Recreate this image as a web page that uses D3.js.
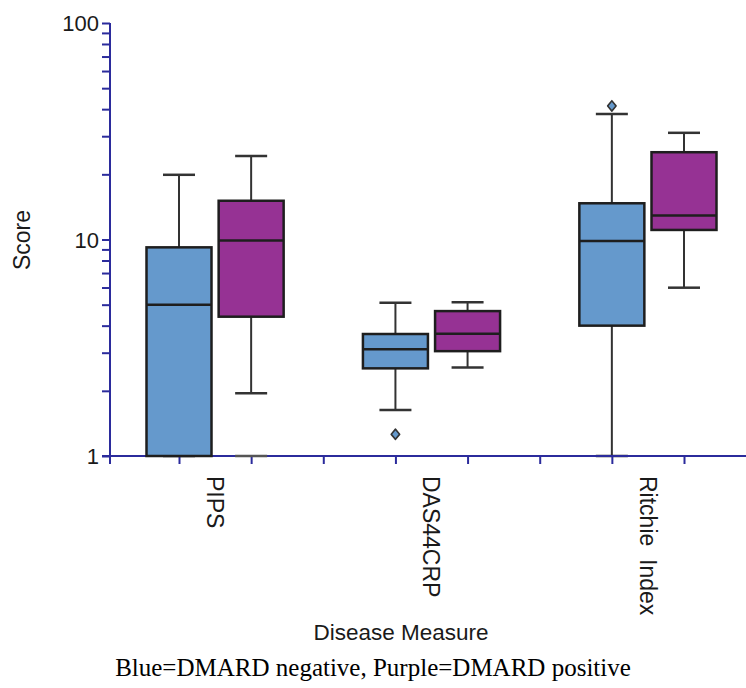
<!DOCTYPE html>
<html>
<head>
<meta charset="utf-8">
<script src="https://cdn.jsdelivr.net/npm/d3@7"></script>
<style>
  html, body { margin: 0; padding: 0; background: #fff; }
  svg { display: block; }
</style>
</head>
<body>
<div id="chart"></div>
<script>
// Disease measures, two DMARD groups per measure
const categories = ["PIPS", "DAS44CRP", "Ritchie  Index"];
const groups = ["DMARD negative", "DMARD positive"];

// Box statistics, in order: PIPS-, PIPS+, DAS44CRP-, DAS44CRP+, Ritchie-, Ritchie+
const whiskerLow  = [1.0, 1.95, 1.63, 2.56, 1.0, 5.99];
const quartile1   = [1.0, 4.4, 2.54, 3.05, 4.0, 11.07];
const medians     = [5.0, 9.9, 3.11, 3.67, 9.84, 12.9];
const quartile3   = [9.2, 15.1, 3.66, 4.67, 14.7, 25.3];
const whiskerHigh = [19.9, 24.3, 5.11, 5.13, 38.0, 31.1];
const outliers    = [[], [], [1.26], [], [41.4], []];
const floorMarks  = [null, 1.0, null, null, null, null];

const yMajorTicks = [1, 10, 100];

const W = 746, H = 688;
const margin = { left: 110, top: 23, bottom: 456, right: 746 };
const colors = ["#6599cc", "#963294"];
const axisColor = "#2b2b9c";
const inkColor = "#1e1e1e";

const svg = d3.select("#chart").append("svg")
  .attr("width", W).attr("height", H)
  .style("font-family", "'Liberation Sans', Arial, sans-serif");

// log value scale
const y = d3.scaleLog().domain([1, 100]).range([margin.bottom, margin.top]);
// slot scale: 3 slots per category (two boxes + spacer)
const x = d3.scaleLinear().domain([0, 7]).range([179, 684]);

const boxes = [];
categories.forEach((c, i) => {
  groups.forEach((g, j) => {
    const k = i * 2 + j;
    boxes.push({
      cat: c, group: j, slot: i * 3 + j,
      lo: whiskerLow[k], q1: quartile1[k], med: medians[k], q3: quartile3[k], hi: whiskerHigh[k],
      out: outliers[k], floor: floorMarks[k]
    });
  });
});

const boxW = 65, capW = 32;

// whiskers
const bx = svg.append("g");
bx.selectAll(".whisker").data(boxes).join("line")
  .attr("x1", d => x(d.slot)).attr("x2", d => x(d.slot))
  .attr("y1", d => y(d.lo)).attr("y2", d => y(d.hi))
  .attr("stroke", "#333").attr("stroke-width", 2);
bx.selectAll(".capHi").data(boxes).join("line")
  .attr("x1", d => x(d.slot) - capW / 2).attr("x2", d => x(d.slot) + capW / 2)
  .attr("y1", d => y(d.hi)).attr("y2", d => y(d.hi))
  .attr("stroke", "#333").attr("stroke-width", 2.5);
bx.selectAll(".capLo").data(boxes).join("line")
  .attr("x1", d => x(d.slot) - capW / 2).attr("x2", d => x(d.slot) + capW / 2)
  .attr("y1", d => y(d.lo)).attr("y2", d => y(d.lo))
  .attr("stroke", "#333").attr("stroke-width", 2.5);

// axes (drawn before boxes so boxes sit on top)
const yAxis = d3.axisLeft(y)
  .tickValues(y.ticks())
  .tickSize(8)
  .tickFormat(d => yMajorTicks.includes(d) ? d3.format("d")(d) : "");
const gy = svg.append("g").attr("transform", `translate(${margin.left},0)`).call(yAxis);
gy.select(".domain").remove();
gy.selectAll(".tick line").attr("stroke", axisColor).attr("stroke-width", 2);
gy.selectAll(".tick text")
  .attr("x", -11).attr("dy", "0.36em")
  .attr("fill", "#1a1a1a").style("font-size", "22px");

const xAxis = d3.axisBottom(x).tickValues(d3.range(8)).tickSize(8).tickSizeOuter(0).tickFormat("");
const gx = svg.append("g").attr("transform", `translate(0,${margin.bottom})`).call(xAxis);
gx.select(".domain").remove();
gx.selectAll(".tick line").attr("stroke", axisColor).attr("stroke-width", 2);

svg.append("line")
  .attr("x1", margin.left).attr("x2", margin.left)
  .attr("y1", margin.top).attr("y2", margin.bottom + 8)
  .attr("stroke", axisColor).attr("stroke-width", 2);
svg.append("line")
  .attr("x1", margin.left - 8).attr("x2", W)
  .attr("y1", margin.bottom).attr("y2", margin.bottom)
  .attr("stroke", axisColor).attr("stroke-width", 2);

// floor marks at value 1
svg.append("g").selectAll("line").data(boxes.filter(d => d.floor != null)).join("line")
  .attr("x1", d => x(d.slot) - capW / 2).attr("x2", d => x(d.slot) + capW / 2)
  .attr("y1", d => y(d.floor)).attr("y2", d => y(d.floor))
  .attr("stroke", "#555").attr("stroke-width", 2.5);

// boxes
const bb = svg.append("g");
bb.selectAll("rect").data(boxes).join("rect")
  .attr("x", d => x(d.slot) - boxW / 2).attr("width", boxW)
  .attr("y", d => y(d.q3)).attr("height", d => y(d.q1) - y(d.q3))
  .attr("fill", d => colors[d.group])
  .attr("stroke", inkColor).attr("stroke-width", 2.5);
bb.selectAll(".median").data(boxes).join("line")
  .attr("x1", d => x(d.slot) - boxW / 2).attr("x2", d => x(d.slot) + boxW / 2)
  .attr("y1", d => y(d.med)).attr("y2", d => y(d.med))
  .attr("stroke", inkColor).attr("stroke-width", 2.5);

// outliers as small rounded diamonds
const pts = boxes.flatMap(d => d.out.map(v => ({ slot: d.slot, v, group: d.group })));
const marker = d3.symbol().type(d3.symbolSquare).size(36);
svg.append("g").selectAll("path").data(pts).join("path")
  .attr("d", marker)
  .attr("transform", d => `translate(${x(d.slot)},${y(d.v)}) scale(1,1.2) rotate(45)`)
  .attr("fill", d => colors[d.group]).attr("stroke", "#333").attr("stroke-width", 1.5)
  .attr("stroke-linejoin", "round");

// category labels, rotated, centred under each pair
svg.append("g").selectAll("text").data(categories).join("text")
  .attr("transform", (d, i) => `translate(${(x(i * 3) + x(i * 3 + 1)) / 2},476) rotate(90)`)
  .attr("dy", "0.35em")
  .attr("fill", "#1a1a1a").style("font-size", "23px").style("white-space", "pre")
  .attr("xml:space", "preserve")
  .text(d => d);

// axis titles
svg.append("text")
  .attr("transform", "translate(22,240) rotate(-90)")
  .attr("text-anchor", "middle").attr("dy", "0.35em")
  .attr("fill", "#1a1a1a").style("font-size", "23px")
  .text("Score");
svg.append("text")
  .attr("x", 401).attr("y", 640)
  .attr("text-anchor", "middle")
  .attr("fill", "#1a1a1a").style("font-size", "22.5px")
  .text("Disease Measure");

svg.append("text")
  .attr("x", W / 2).attr("y", 676)
  .attr("text-anchor", "middle")
  .attr("fill", "#000")
  .style("font-family", "'Liberation Serif', 'Times New Roman', serif")
  .style("font-size", "25px")
  .text("Blue=DMARD negative, Purple=DMARD positive");
</script>
</body>
</html>
